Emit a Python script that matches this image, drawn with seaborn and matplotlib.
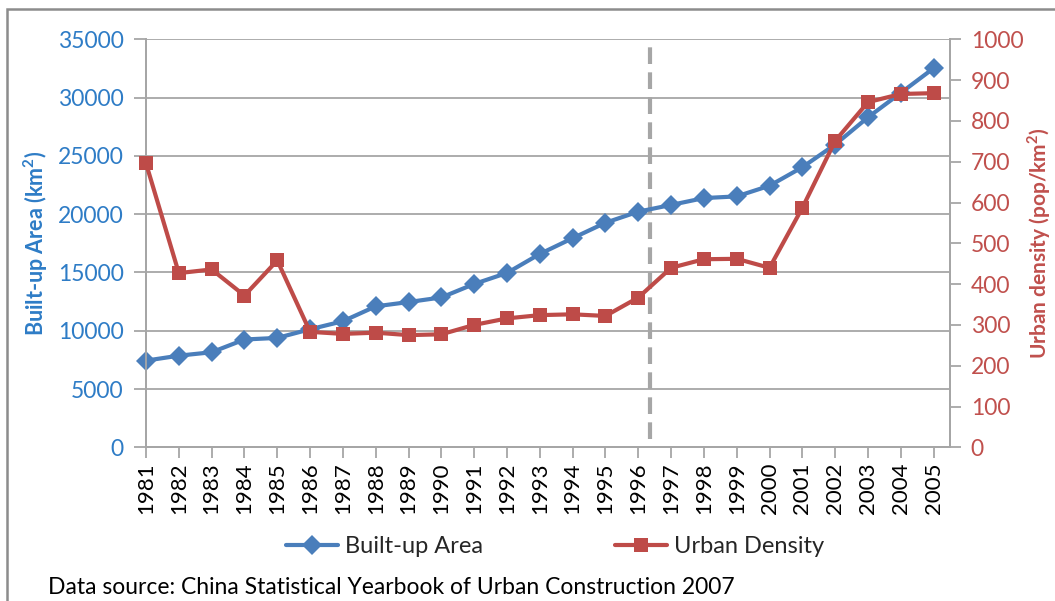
import matplotlib
matplotlib.use("Agg")
import matplotlib.pyplot as plt
import seaborn as sns
import pandas as pd
from matplotlib.patches import Rectangle

years = list(range(1981, 2006))
built_up_area = [7438, 7862, 8156, 9249, 9386, 10127, 10816, 12094, 12462, 12856,
                 14011, 14958, 16588, 17940, 19264, 20214, 20791, 21380, 21525, 22439,
                 24027, 25973, 28308, 30406, 32521]
urban_density = [696, 427, 436, 372, 458, 283, 278, 281, 275, 277,
                 300, 316, 324, 326, 322, 367, 440, 461, 462, 440,
                 587, 751, 846, 866, 868]
left_ticks = list(range(0, 35001, 5000))
right_ticks = list(range(0, 1001, 100))
divider_year = 1996.35

df = pd.DataFrame({"year": years, "area": built_up_area, "density": urban_density})

sns.set_style("white")
plt.rcParams['font.family'] = ['Lato', 'DejaVu Sans']

BLUE_LINE = "#4A7EBB"
BLUE_TXT = "#2E7CC6"
RED_LINE = "#BE4B48"
RED_TXT = "#C0504D"
GRID = "#A6A6A6"

fig = plt.figure(figsize=(10.55, 6.01), dpi=100)
ax = fig.add_axes([0.1384, 0.2557, 0.9005 - 0.1384, 0.9346 - 0.2557])
ax2 = ax.twinx()

# frame around chart
fig.patches.append(Rectangle((7 / 1055, -0.1), 1.2, (601 - 9) / 601 + 0.1,
                             transform=fig.transFigure, fill=False,
                             edgecolor="#8C8C8C", linewidth=1.8, zorder=0))

sns.lineplot(data=df, x="year", y="area", ax=ax, color=BLUE_LINE, linewidth=3,
             marker="D", markersize=10, markeredgewidth=0, label="Built-up Area",
             legend=False, clip_on=False, zorder=3)
sns.lineplot(data=df, x="year", y="density", ax=ax2, color=RED_LINE, linewidth=3,
             marker="s", markersize=10, markeredgewidth=0, label="Urban Density",
             legend=False, clip_on=False, zorder=3)

ax.set_xlim(1981, 2005.5)
ax.set_ylim(0, 35000)
ax2.set_ylim(0, 1000)
ax.set_xticks(years)
ax.set_xticklabels([str(y) for y in years], rotation=90)
ax.set_yticks(left_ticks)
ax2.set_yticks(right_ticks)

ax.yaxis.grid(True, color=GRID, linewidth=1.3)
ax.set_axisbelow(True)
ax.axvline(divider_year, ymin=0.02, ymax=0.98, color="#A6A6A6", linewidth=3,
           linestyle=(0, (4, 2)), zorder=2)

for a in (ax, ax2):
    a.set_facecolor("none")
    for s in a.spines.values():
        s.set_color(GRID)
        s.set_linewidth(1.3)
    a.spines["top"].set_visible(False)
ax2.set_zorder(ax.get_zorder() + 1)

ax.tick_params(axis="y", colors=GRID, labelcolor=BLUE_TXT, labelsize=16.5,
               length=9, width=1.3, left=True, pad=7)
ax.tick_params(axis="x", colors=GRID, labelcolor="black", labelsize=16,
               length=8, width=1.3, bottom=True, pad=3)
ax2.tick_params(axis="y", colors=GRID, labelcolor=RED_TXT, labelsize=16.5,
                length=8, width=1.3, right=True, pad=7)

ax.set_xlabel("")
ax.set_ylabel("Built-up Area (km$^\\mathregular{2}$)", color=BLUE_TXT,
              fontsize=15.5, fontweight="bold", labelpad=6)
ax2.set_ylabel("Urban density (pop/km$^\\mathregular{2}$)", color=RED_TXT,
               fontsize=15, fontweight="bold", labelpad=1)

h1, l1 = ax.get_legend_handles_labels()
h2, l2 = ax2.get_legend_handles_labels()
fig.legend(h1 + h2, l1 + l2, loc="center", bbox_to_anchor=(555 / 1055, 0.09), ncol=2,
           frameon=False, fontsize=17, handlelength=2.2, columnspacing=5.6,
           handletextpad=0.3)

fig.text(48 / 1055, 1 - 588 / 601, "Data source: China Statistical Yearbook of Urban Construction 2007",
         fontsize=16.5, va="center", ha="left", color="black")

fig.savefig("out.png", dpi=100)
